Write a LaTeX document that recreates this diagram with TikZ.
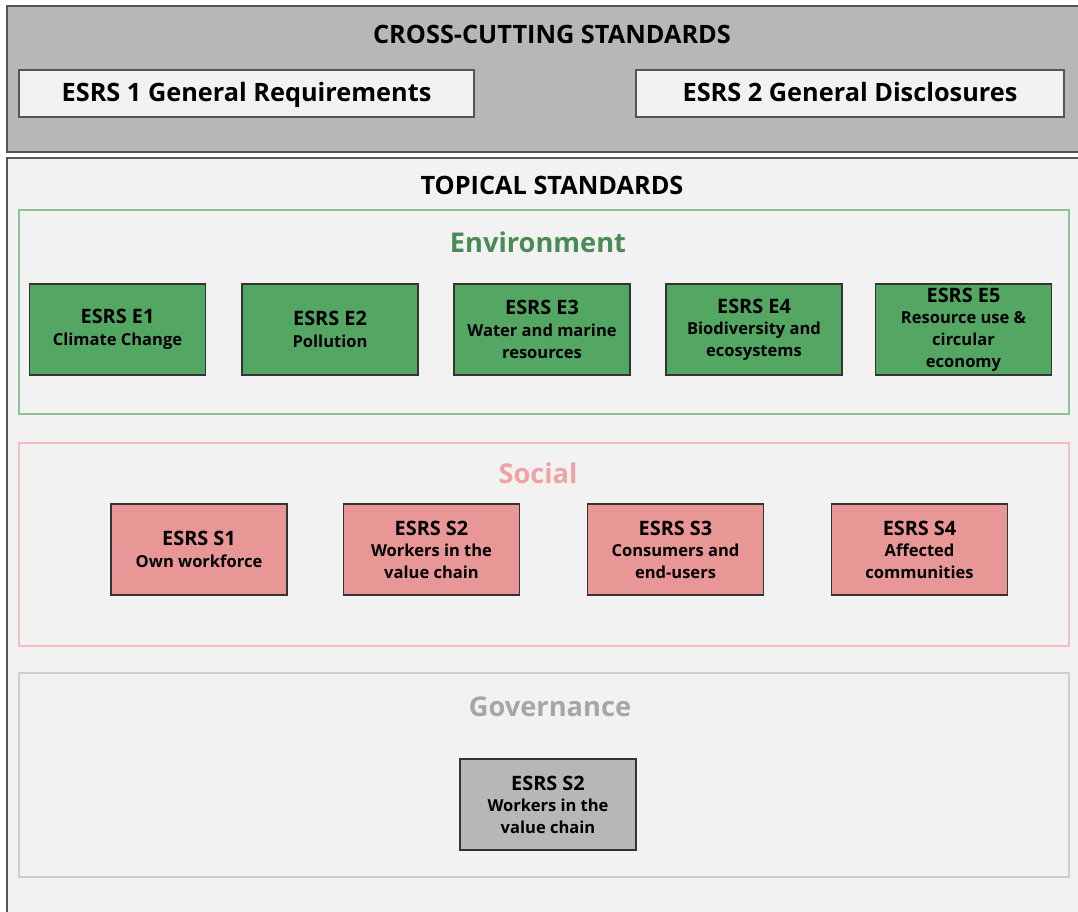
\documentclass[tikz,border=0pt]{standalone}
\usepackage{fontspec}
\setmainfont{Open Sans}
\usetikzlibrary{positioning}

\definecolor{bandgray}{HTML}{B7B7B7}
\definecolor{panelgray}{HTML}{F2F2F2}
\definecolor{edgegray}{HTML}{555555}
\definecolor{envgreen}{HTML}{53A763}
\definecolor{envframe}{HTML}{93BF98}
\definecolor{envtitle}{HTML}{4A8A56}
\definecolor{socpink}{HTML}{E99696}
\definecolor{socframe}{HTML}{F2BEBE}
\definecolor{soctitle}{HTML}{F0A3A3}
\definecolor{govframe}{HTML}{CFCFCF}
\definecolor{govtitle}{HTML}{A6A6A6}

\tikzset{
  std/.style={draw=edgegray, line width=0.8pt, fill=panelgray, minimum height=0.94cm,
    text height=12pt, text depth=3pt, font=\bfseries\fontsize{14.4}{16}\selectfont},
  topic/.style={draw=black!80, line width=0.8pt, minimum width=3.52cm, minimum height=1.82cm,
    align=center, inner sep=1pt, font=\bfseries\fontsize{9.4}{12.3}\selectfont},
  heading/.style={font=\bfseries\fontsize{14.4}{16}\selectfont},
  pillar/.style={font=\bfseries\fontsize{15.5}{18}\selectfont},
  frame/.style={line width=0.9pt},
}
% first line of a standard box is a bit larger
\newcommand{\stdname}[1]{{\fontsize{11.3}{12}\selectfont #1}}

\begin{document}
\begin{tikzpicture}[x=0.02cm, y=-0.02cm]
  \useasboundingbox (0,0) rectangle (1078,912);
  \clip (0,0) rectangle (1078,912);
  \fill[white] (0,0) rectangle (1078,912);

  % cross-cutting band
  \draw[fill=bandgray, draw=edgegray, line width=1pt] (7,6) rectangle (1090,152);
  \node[heading] (cross) at (552,34) {CROSS-CUTTING STANDARDS};
  \node[std, minimum width=9.1cm] (esrs1) at (246.5,93.5) {ESRS 1 General Requirements};
  \node[std, minimum width=8.56cm] (esrs2) at (850,93.5) {ESRS 2 General Disclosures};

  % topical panel
  \draw[fill=panelgray, draw=edgegray, line width=1pt] (7,158) rectangle (1090,930);
  \node[heading] (topical) at (552,185) {TOPICAL STANDARDS};

  % environment
  \draw[frame, draw=envframe] (19,210) rectangle (1069,414);
  \node[pillar, text=envtitle] (env) at (538,242) {Environment};
  \foreach \x/\n/\t in {117.5/1/{Climate Change}, 330/2/{Pollution},
      542/3/{Water and marine\\resources}, 754/4/{Biodiversity and\\ecosystems},
      963.5/5/{Resource use \&\\circular\\economy}}
    \node[topic, fill=envgreen] (e\n) at (\x,329.5) {\stdname{ESRS E\n}\\\t};

  % social
  \draw[frame, draw=socframe] (19,443) rectangle (1069,646);
  \node[pillar, text=soctitle] (soc) at (538,473) {Social};
  \foreach \x/\n/\t in {199/1/{Own workforce}, 431.5/2/{Workers in the\\value chain},
      675.5/3/{Consumers and\\end-users}, 919.5/4/{Affected\\communities}}
    \node[topic, fill=socpink] (s\n) at (\x,549.5) {\stdname{ESRS S\n}\\\t};

  % governance
  \draw[frame, draw=govframe] (19,673) rectangle (1069,877);
  \node[pillar, text=govtitle] (gov) at (550,707) {Governance};
  \node[topic, fill=bandgray] (g1) at (548,804.5) {\stdname{ESRS S2}\\Workers in the\\value chain};
\end{tikzpicture}
\end{document}
